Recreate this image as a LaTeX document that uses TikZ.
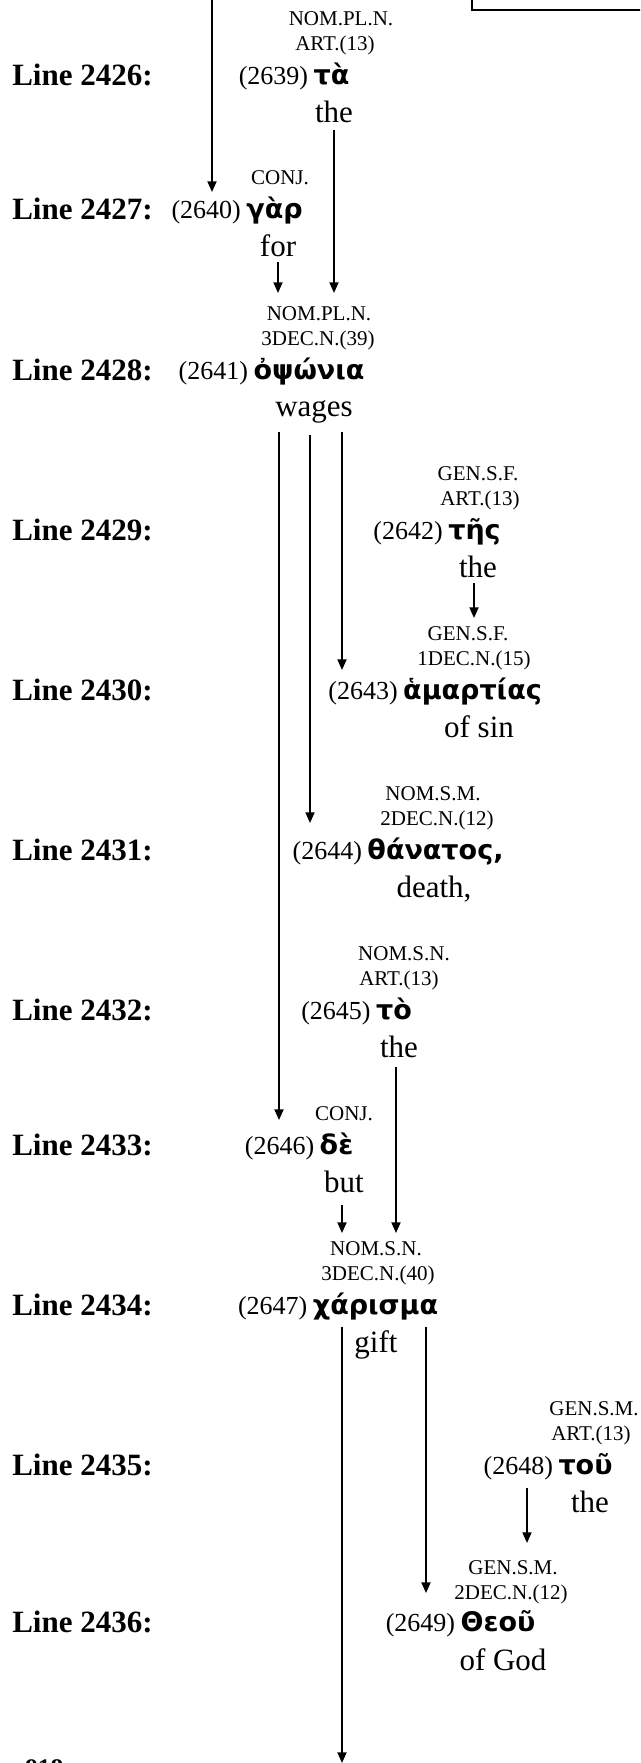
\documentclass[tikz,border=0pt]{standalone}
\usepackage{fontspec}
\setmainfont{Liberation Serif}
\newfontfamily\grkfont{DejaVu Sans}
\usetikzlibrary{arrows.meta}
\begin{document}
\begin{tikzpicture}[x=0.75pt,y=-0.75pt,
  linelab/.style={anchor=base west, inner sep=0, font=\fontsize{23.25}{28}\selectfont\bfseries},
  lab/.style={anchor=base, inner sep=0, font=\fontsize{15.75}{19}\selectfont},
  num/.style={anchor=base east, inner sep=0, font=\fontsize{19.5}{23}\selectfont},
  grk/.style={anchor=base, inner sep=0, font=\fontsize{20.25}{24}\selectfont\grkfont\bfseries},
  gloss/.style={anchor=base, inner sep=0, font=\fontsize{23.25}{28}\selectfont},
  arr/.style={-{Triangle[width=6.75pt,length=8pt]}, line width=1.4pt},
  frame/.style={line width=1.3pt}]
\useasboundingbox (0,0) rectangle (640,1763);
\clip (0,0) rectangle (640,1763);

% top-right box fragment and page number fragment
\draw[frame] (472,-20) -- (472,10) -- (660,10);
\node[anchor=base west, inner sep=0, font=\fontsize{19}{20}\selectfont\bfseries] (pg) at (25,1776) {918};

% Line labels
\node[linelab] (L2426) at (12,85)   {Line 2426:};
\node[linelab] (L2427) at (12,219)  {Line 2427:};
\node[linelab] (L2428) at (12,380)  {Line 2428:};
\node[linelab] (L2429) at (12,540)  {Line 2429:};
\node[linelab] (L2430) at (12,700)  {Line 2430:};
\node[linelab] (L2431) at (12,860)  {Line 2431:};
\node[linelab] (L2432) at (12,1020) {Line 2432:};
\node[linelab] (L2433) at (12,1155) {Line 2433:};
\node[linelab] (L2434) at (12,1315) {Line 2434:};
\node[linelab] (L2435) at (12,1475) {Line 2435:};
\node[linelab] (L2436) at (12,1632) {Line 2436:};

% 2639
\node[lab] (m2639a) at (341,25) {NOM.PL.N.};
\node[lab] (m2639b) at (335,50) {ART.(13)};
\node[grk] (g2639) at (331.5,84) {τὰ};
\node[num] (n2639) at ([xshift=-3.75pt]g2639.base west) {(2639)};
\node[gloss] (e2639) at (334,122) {the};

% 2640
\node[lab] (m2640b) at (280,184) {CONJ.};
\node[grk] (g2640) at (274.5,218) {γὰρ};
\node[num] (n2640) at ([xshift=-3.75pt]g2640.base west) {(2640)};
\node[gloss] (e2640) at (278,256) {for};

% 2641
\node[lab] (m2641a) at (319,320) {NOM.PL.N.};
\node[lab] (m2641b) at (318,345) {3DEC.N.(39)};
\node[grk] (g2641) at (309,379) {ὀψώνια};
\node[num] (n2641) at ([xshift=-3.75pt]g2641.base west) {(2641)};
\node[gloss] (e2641) at (314,416) {wages};

% 2642
\node[lab] (m2642a) at (478,480) {GEN.S.F.};
\node[lab] (m2642b) at (480,505) {ART.(13)};
\node[grk] (g2642) at (474.5,539) {τῆς};
\node[num] (n2642) at ([xshift=-3.75pt]g2642.base west) {(2642)};
\node[gloss] (e2642) at (478,577) {the};

% 2643
\node[lab] (m2643a) at (468,640) {GEN.S.F.};
\node[lab] (m2643b) at (474,665) {1DEC.N.(15)};
\node[grk] (g2643) at (472.5,699) {ἁμαρτίας};
\node[num] (n2643) at ([xshift=-3.75pt]g2643.base west) {(2643)};
\node[gloss] (e2643) at (479,737) {of sin};

% 2644
\node[lab] (m2644a) at (433,800) {NOM.S.M.};
\node[lab] (m2644b) at (437,825) {2DEC.N.(12)};
\node[grk] (g2644) at (435.5,859) {θάνατος,};
\node[num] (n2644) at ([xshift=-3.75pt]g2644.base west) {(2644)};
\node[gloss] (e2644) at (434,897) {death,};

% 2645
\node[lab] (m2645a) at (404,960) {NOM.S.N.};
\node[lab] (m2645b) at (399,985) {ART.(13)};
\node[grk] (g2645) at (394,1019) {τὸ};
\node[num] (n2645) at ([xshift=-3.75pt]g2645.base west) {(2645)};
\node[gloss] (e2645) at (399,1057) {the};

% 2646
\node[lab] (m2646b) at (344,1120) {CONJ.};
\node[grk] (g2646) at (336.5,1154) {δὲ};
\node[num] (n2646) at ([xshift=-3.75pt]g2646.base west) {(2646)};
\node[gloss] (e2646) at (344,1192) {but};

% 2647
\node[lab] (m2647a) at (376,1255) {NOM.S.N.};
\node[lab] (m2647b) at (378,1280) {3DEC.N.(40)};
\node[grk] (g2647) at (375.5,1314) {χάρισμα};
\node[num] (n2647) at ([xshift=-3.75pt]g2647.base west) {(2647)};
\node[gloss] (e2647) at (376,1352) {gift};

% 2648
\node[lab] (m2648a) at (594,1415) {GEN.S.M.};
\node[lab] (m2648b) at (591,1440) {ART.(13)};
\node[grk] (g2648) at (585.5,1474) {τοῦ};
\node[num] (n2648) at ([xshift=-3.75pt]g2648.base west) {(2648)};
\node[gloss] (e2648) at (590,1512) {the};

% 2649
\node[lab] (m2649a) at (513,1574) {GEN.S.M.};
\node[lab] (m2649b) at (511,1599) {2DEC.N.(12)};
\node[grk] (g2649) at (498,1631) {Θεοῦ};
\node[num] (n2649) at ([xshift=-3.75pt]g2649.base west) {(2649)};
\node[gloss] (e2649) at (503,1670) {of God};

% connector ends
\coordinate (a1s) at (212,-5);   \coordinate (a1e) at (212,192);
\coordinate (a2s) at (334,130);  \coordinate (a2e) at (334,293);
\coordinate (a3s) at (278,262);  \coordinate (a3e) at (278,293);
\coordinate (a4s) at (342,432);  \coordinate (a4e) at (342,670);
\coordinate (a5s) at (310,435);  \coordinate (a5e) at (310,823);
\coordinate (a6s) at (279,432);  \coordinate (a6e) at (279,1120);
\coordinate (a7s) at (474,583);  \coordinate (a7e) at (474,618);
\coordinate (a8s) at (396,1067); \coordinate (a8e) at (396,1233);
\coordinate (a9s) at (342,1205); \coordinate (a9e) at (342,1233);
\coordinate (a10s) at (426,1327); \coordinate (a10e) at (426,1593);
\coordinate (a11s) at (342,1327); \coordinate (a11e) at (342,1763);
\coordinate (a12s) at (527,1488); \coordinate (a12e) at (527,1543);

\draw[arr] (a1s) -- (a1e);
\draw[arr] (a2s) -- (a2e);
\draw[arr] (a3s) -- (a3e);
\draw[arr] (a4s) -- (a4e);
\draw[arr] (a5s) -- (a5e);
\draw[arr] (a6s) -- (a6e);
\draw[arr] (a7s) -- (a7e);
\draw[arr] (a8s) -- (a8e);
\draw[arr] (a9s) -- (a9e);
\draw[arr] (a10s) -- (a10e);
\draw[arr] (a11s) -- (a11e);
\draw[arr] (a12s) -- (a12e);
\end{tikzpicture}
\end{document}
